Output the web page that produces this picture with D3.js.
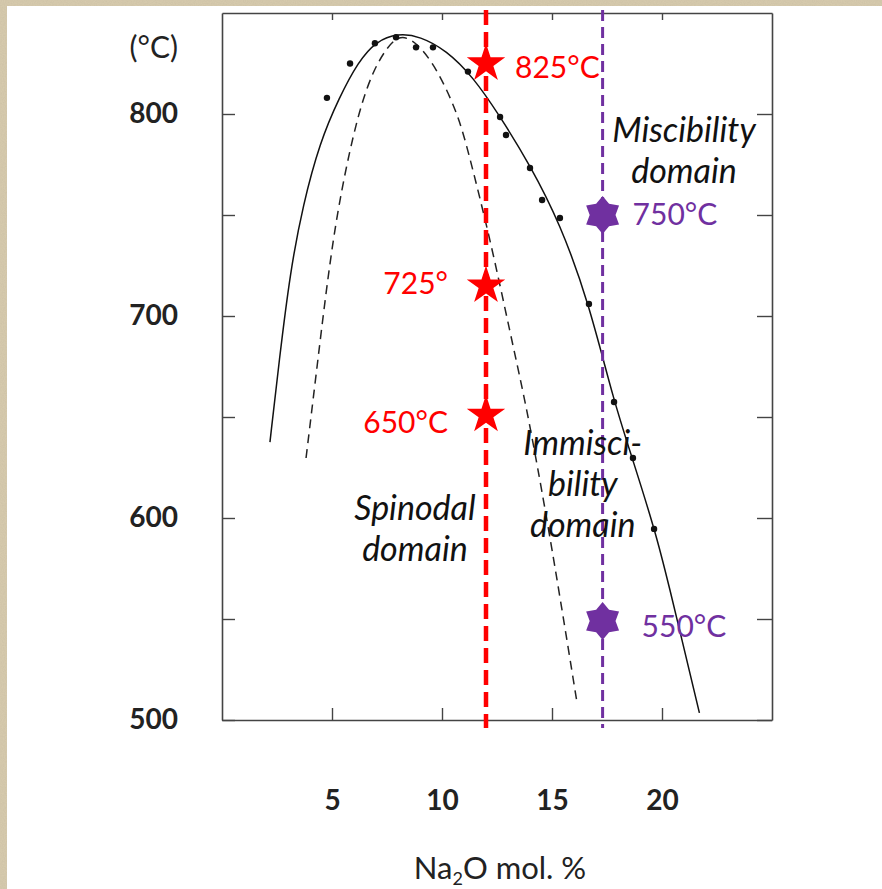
<!DOCTYPE html>
<html>
<head>
<meta charset="utf-8">
<script src="https://cdn.jsdelivr.net/npm/d3@7"></script>
<style>
  body { margin: 0; background: #fff; }
  svg { display: block; }
  text { font-family: Lato, "Open Sans", sans-serif; }
</style>
</head>
<body>
<div id="chart"></div>
<script>
// ticks
const xTicks = [5, 10, 15, 20];
const yTicks = [500, 550, 600, 650, 700, 750, 800];
const yLabelTicks = [500, 600, 700, 800];

// measured points (Na2O mol.%, °C)
const dots = [
  [4.77, 808], [5.82, 825], [6.95, 835], [7.91, 838], [8.82, 833], [9.59, 833],
  [11.18, 821], [12.64, 798.5], [12.91, 789.6], [14.0, 773.3], [14.55, 757.4],
  [15.36, 748.5], [16.68, 706], [17.82, 657.4], [18.68, 629.7], [19.64, 594.6]
];

// solid curve (binodal)
const binodal = [
  [2.18, 637.6], [2.6, 678], [3.1, 722], [3.68, 755], [4.45, 786], [5.32, 808],
  [6.2, 826], [7.0, 836], [8.0, 840], [9.0, 838.5], [10.2, 831.5], [11.4, 818.5],
  [12.6, 799.5], [14.0, 774.8], [15.36, 746], [16.68, 706.4], [17.8, 658],
  [18.7, 628], [19.7, 593], [20.2, 572], [21.7, 503.5]
];

// dashed curve (spinodal)
const spinodal = [
  [3.82, 629.7], [4.32, 674.8], [5.05, 741.1], [5.82, 783.2], [6.36, 806], [6.9, 822],
  [7.5, 833], [8.1, 839.5], [8.86, 835.5], [9.77, 822.5], [10.68, 801], [11.14, 784],
  [12.2, 737.6], [13.1, 691.6], [13.77, 658.4], [14.3, 628], [15.05, 582], [16.14, 508.4]
];

// vertical compositions
const redX = 12.0;
const purpleX = 17.3;

// marker temperatures and labels
const redTemps = [825, 715, 651];
const redLabels = ['825°C', '725°', '650°C'];
const redLabelTemps = [818, 711, 642];
const purpleTemps = [750, 549];
const purpleLabels = ['750°C', '550°C'];
const purpleLabelTemps = [745, 541];

// domain names
const domainNames = [
  { lines: ['Miscibility', 'domain'], x: 21.0, t: 786 },
  { lines: ['Spinodal', 'domain'], x: 8.77, t: 599 },
  { lines: ['Immisci-', 'bility', 'domain'], x: 16.4, t: 631 }
];

const W = 882, H = 889;
const margin = { top: 13, right: 110, bottom: 169, left: 222 };
const width = W - margin.left - margin.right;
const height = H - margin.top - margin.bottom;

const svg = d3.select('#chart').append('svg')
  .attr('width', W)
  .attr('height', H);

// paper border
const defs = svg.append('defs');
const filt = defs.append('filter').attr('id', 'grain');
filt.append('feTurbulence').attr('type', 'fractalNoise').attr('baseFrequency', 0.9).attr('numOctaves', 2).attr('result', 'n');
filt.append('feColorMatrix').attr('type', 'matrix')
  .attr('values', '0 0 0 0 0.55  0 0 0 0 0.48  0 0 0 0 0.35  0 0 0 0.7 0');
svg.append('rect').attr('width', W).attr('height', H).attr('fill', '#d8ccae');
svg.append('rect').attr('width', W).attr('height', H).attr('filter', 'url(#grain)').attr('opacity', 0.7);
svg.append('rect').attr('x', 7).attr('y', 6).attr('width', W - 7).attr('height', H - 6).attr('fill', '#fff');

const g = svg.append('g')
  .attr('transform', 'translate(' + margin.left + ',' + margin.top + ')');

const x = d3.scaleLinear().domain([0, 25]).range([0, width]);
const y = d3.scaleLinear().domain([500, 850]).range([height, 0]);

// axes (ticks pointing inward)
const frameColor = '#444';
g.append('g')
  .call(d3.axisLeft(y).tickValues(yTicks).tickSizeInner(-13).tickSizeOuter(0).tickPadding(44)
    .tickFormat(d => yLabelTicks.includes(d) ? d : ''))
  .call(a => a.selectAll('text').attr('font-size', 28).attr('font-weight', 'bold').attr('fill', '#222').attr('font-family', 'Lato, sans-serif'));

g.append('g')
  .attr('transform', 'translate(' + width + ',0)')
  .call(d3.axisRight(y).tickValues(yTicks).tickSizeInner(-15).tickSizeOuter(0).tickFormat(''));

g.append('g')
  .attr('transform', 'translate(0,' + height + ')')
  .call(d3.axisBottom(x).tickValues(xTicks).tickSizeInner(-12).tickSizeOuter(0).tickPadding(70))
  .call(a => a.selectAll('text').attr('font-size', 28).attr('font-weight', 'bold').attr('fill', '#222').attr('font-family', 'Lato, sans-serif'));

g.append('g')
  .call(d3.axisTop(x).tickValues(xTicks).tickSizeInner(-7).tickSizeOuter(0).tickFormat(''));

g.selectAll('.domain').attr('stroke', frameColor).attr('stroke-width', 1.6);
g.selectAll('.tick line').attr('stroke', frameColor).attr('stroke-width', 1.4);

// curves
const line = d3.line()
  .x(d => x(d[0]))
  .y(d => y(d[1]))
  .curve(d3.curveBasis);

g.append('path')
  .datum(binodal)
  .attr('d', line)
  .attr('fill', 'none')
  .attr('stroke', '#111')
  .attr('stroke-width', 1.5);

g.append('path')
  .datum(spinodal)
  .attr('d', line)
  .attr('fill', 'none')
  .attr('stroke', '#222')
  .attr('stroke-width', 1.5)
  .attr('stroke-dasharray', '9,6');

g.selectAll('.dot')
  .data(dots)
  .enter().append('circle')
  .attr('class', 'dot')
  .attr('cx', d => x(d[0]))
  .attr('cy', d => y(d[1]))
  .attr('r', 3.2)
  .attr('fill', '#111');

// vertical dashed lines
const red = '#ff0000';
const purple = '#7030a0';

g.append('line')
  .attr('x1', x(redX)).attr('x2', x(redX))
  .attr('y1', y(850) - 3).attr('y2', y(500) + 8)
  .attr('stroke', red).attr('stroke-width', 4.5).attr('stroke-dasharray', '15,7');

g.append('line')
  .attr('x1', x(purpleX)).attr('x2', x(purpleX))
  .attr('y1', y(850) - 3).attr('y2', y(500) + 8)
  .attr('stroke', purple).attr('stroke-width', 3).attr('stroke-dasharray', '11,6');

// domain texts
domainNames.forEach(dn => {
  const t = g.append('text')
    .attr('x', x(dn.x))
    .attr('y', y(dn.t))
    .attr('text-anchor', 'middle')
    .attr('font-size', 34)
    .attr('font-style', 'italic')
    .attr('fill', '#111');
  dn.lines.forEach((s, i) => {
    t.append('tspan').attr('x', x(dn.x)).attr('dy', i === 0 ? 0 : 41).text(s);
  });
});

// red stars
g.selectAll('.rstar')
  .data(redTemps)
  .enter().append('path')
  .attr('class', 'rstar')
  .attr('d', d3.symbol(d3.symbolStar, 460))
  .attr('transform', d => 'translate(' + x(redX) + ',' + y(d) + ')')
  .attr('fill', red);

g.selectAll('.rlabel')
  .data(redLabels)
  .enter().append('text')
  .attr('class', 'rlabel')
  .attr('x', (d, i) => i === 0 ? x(redX) + 29 : x(redX) - 38)
  .attr('y', (d, i) => y(redLabelTemps[i]))
  .attr('text-anchor', (d, i) => i === 0 ? 'start' : 'end')
  .attr('font-size', 30)
  .attr('fill', red)
  .text(d => d);

// purple six-pointed markers
const hexStar = r => {
  const pts = d3.range(12).map(i => {
    const a = -Math.PI / 2 + i * Math.PI / 6;
    const rr = i % 2 === 0 ? r : r * 0.68;
    return [rr * Math.cos(a), rr * Math.sin(a)];
  });
  return 'M' + pts.join('L') + 'Z';
};

g.selectAll('.pstar')
  .data(purpleTemps)
  .enter().append('path')
  .attr('class', 'pstar')
  .attr('d', hexStar(19))
  .attr('transform', d => 'translate(' + x(purpleX) + ',' + y(d) + ')')
  .attr('fill', purple);

g.selectAll('.plabel')
  .data(purpleLabels)
  .enter().append('text')
  .attr('class', 'plabel')
  .attr('x', (d, i) => x(purpleX) + (i === 0 ? 30 : 39))
  .attr('y', (d, i) => y(purpleLabelTemps[i]))
  .attr('font-size', 30)
  .attr('fill', purple)
  .text(d => d);

// axis titles
svg.append('text')
  .attr('x', 178)
  .attr('y', 58)
  .attr('text-anchor', 'end')
  .attr('font-size', 30)
  .attr('fill', '#222')
  .text('(°C)');

const xt = svg.append('text')
  .attr('x', 500)
  .attr('y', 879)
  .attr('text-anchor', 'middle')
  .attr('font-size', 31)
  .attr('fill', '#222');
xt.append('tspan').text('Na');
xt.append('tspan').attr('font-size', 18).attr('dy', 6).text('2');
xt.append('tspan').attr('dy', -6).text('O mol. %');
</script>
</body>
</html>
